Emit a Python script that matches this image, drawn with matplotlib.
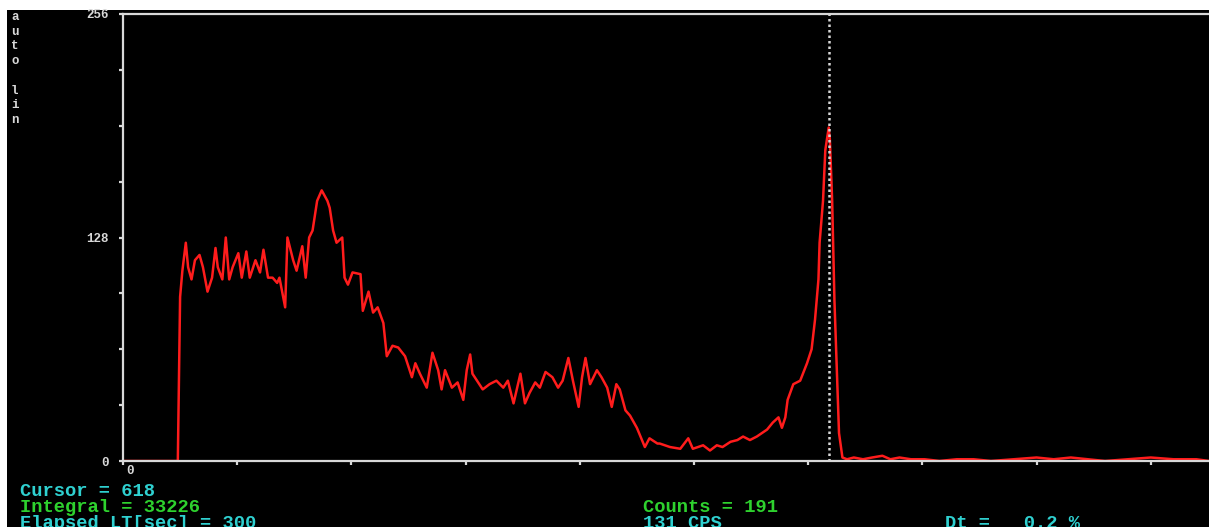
import matplotlib

matplotlib.use("Agg")

import matplotlib.pyplot as plt
from matplotlib.ticker import MultipleLocator, FixedLocator

W, H = 1209, 527

# spectrum (channel, counts)
channels = [
    0, 47, 48, 50, 52, 55, 57, 60, 63, 67, 70, 74, 78, 81, 83, 87, 90, 93, 96,
    101, 104, 108, 111, 116, 120, 123, 127, 131, 135, 137, 142, 144, 149, 152,
    157, 160, 163, 166, 170, 174, 179, 181, 184, 187, 192, 194, 197, 201, 208,
    210, 215, 219, 223, 228, 231, 236, 241, 247, 253, 256, 260, 266, 271, 276,
    279, 282, 288, 293, 298, 301, 304, 306, 311, 315, 321, 327, 333, 337, 342,
    348, 352, 356, 361, 365, 370, 376, 381, 385, 390, 394, 399, 402, 405, 409,
    415, 419, 424, 428, 432, 435, 440, 444, 450, 457, 461, 468, 470, 479, 488,
    495, 499, 508, 514, 520, 525, 532, 538, 543, 549, 555, 564, 569, 574, 577,
    580, 582, 587, 593, 599, 603, 606, 609, 610, 613, 615, 618, 619, 621, 623,
    625, 627, 630, 634, 640, 648, 656, 665, 672, 680, 690, 702, 715, 730, 745,
    760, 780, 800, 815, 830, 845, 860, 880, 900, 920, 940, 951,
]
counts = [
    0, 0, 0, 94, 109, 125, 111, 104, 115, 118, 111, 97, 105, 122, 111, 104,
    128, 104, 111, 119, 105, 120, 105, 115, 108, 121, 105, 105, 102, 105, 88,
    128, 115, 109, 123, 105, 128, 132, 149, 155, 149, 145, 132, 125, 128, 105,
    101, 108, 107, 86, 97, 85, 88, 79, 60, 66, 65, 60, 48, 56, 50, 42, 62, 52,
    41, 52, 42, 45, 35, 52, 61, 50, 45, 41, 44, 46, 42, 46, 33, 50, 33, 39, 45,
    42, 51, 48, 42, 46, 59, 46, 31, 48, 59, 44, 52, 48, 42, 31, 44, 41, 29, 26,
    19, 8, 13, 10, 10, 8, 7, 13, 7, 9, 6, 9, 8, 11, 12, 14, 12, 14, 18, 22, 25,
    19, 25, 35, 44, 46, 56, 64, 81, 104, 125, 149, 178, 191, 184, 149, 92, 54,
    16, 2, 1, 2, 1, 2, 3, 1, 2, 1, 1, 0, 1, 1, 0, 1, 2, 1, 2, 1, 0, 1, 2, 1, 1, 0,
]

cursor_channel = 618
x_max = 951
y_max = 256

info_left = ["Cursor = 618", "Integral = 33226", "Elapsed LT[sec] = 300"]
info_mid = ["Counts = 191", "131 CPS"]
info_right = "Dt =   0.2 %"

CYAN = "#2fd0d0"
GREEN = "#2ed12e"
GREY = "#d8d8d8"
RED = "#ff1c1c"
MONO = ["Liberation Mono", "DejaVu Sans Mono"]


def px(x, y):
    return x / W, 1 - y / H


fig = plt.figure(figsize=(W / 100, H / 100), dpi=100, facecolor="white")

# black screen area
bg = fig.add_axes([7 / W, 0, 1 - 7 / W, 1 - 10 / H])
bg.set_facecolor("black")
bg.set_xticks([])
bg.set_yticks([])
for s in bg.spines.values():
    s.set_visible(False)

ax = fig.add_axes([123 / W, 66 / H, 1 - 123 / W, (461 - 14) / H])
ax.set_facecolor("black")
ax.plot(channels, counts, color=RED, linewidth=1.8, zorder=2)
ax.axvline(cursor_channel, color=GREY, linestyle=(0, (1, 1.2)), linewidth=1.8, zorder=3)

ax.set_xlim(0, x_max)
ax.set_ylim(0, y_max)

for side in ("left", "bottom", "top"):
    ax.spines[side].set_color(GREY)
    ax.spines[side].set_linewidth(1.6)
ax.spines["right"].set_visible(False)

ax.xaxis.set_major_locator(MultipleLocator(100))
ax.yaxis.set_major_locator(FixedLocator([0, 128, 256]))
ax.yaxis.set_minor_locator(MultipleLocator(32))
ax.tick_params(axis="both", which="both", direction="out", color=GREY, width=1.6)
ax.tick_params(axis="x", which="major", length=3, labelbottom=False)
ax.tick_params(axis="y", which="major", length=3, labelcolor=GREY, labelsize=9, pad=7)
ax.tick_params(axis="y", which="minor", length=3)
for lab in ax.get_yticklabels():
    lab.set_family(MONO)
    lab.set_weight("bold")

fig.text(*px(126, 471), "0", color=GREY, fontsize=9, family=MONO, weight="bold",
         ha="left", va="center")

fig.text(*px(11, 11), "a\nu\nt\no\n\nl\ni\nn", color=GREY, fontsize=9, family=MONO,
         weight="bold", ha="left", va="top", linespacing=1.3)

# status lines under the plot (the last line is cut by the screen edge)
left_colors = [CYAN, GREEN, CYAN]
for i, (txt, col) in enumerate(zip(info_left, left_colors)):
    fig.text(*px(20, 491 + 16 * i), txt, color=col, fontsize=13.5, family=MONO,
             weight="bold", ha="left", va="center")
for i, (txt, col) in enumerate(zip(info_mid, [GREEN, CYAN])):
    fig.text(*px(643, 507 + 16 * i), txt, color=col, fontsize=13.5, family=MONO,
             weight="bold", ha="left", va="center")
fig.text(*px(945, 523), info_right, color=CYAN, fontsize=13.5, family=MONO,
         weight="bold", ha="left", va="center")

fig.savefig("out.png", dpi=100, facecolor=fig.get_facecolor())
plt.close(fig)
